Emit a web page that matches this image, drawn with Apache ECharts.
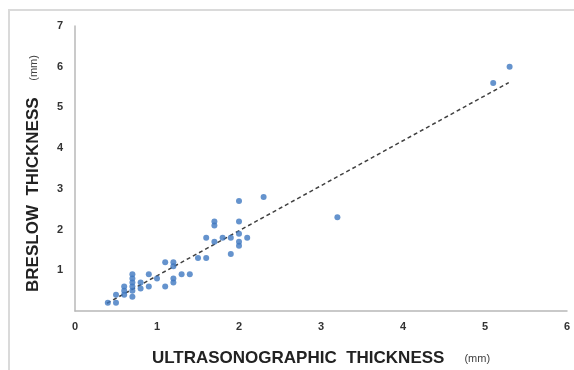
<!DOCTYPE html>
<html>
<head>
<meta charset="utf-8">
<script src="https://cdn.jsdelivr.net/npm/echarts@6/dist/echarts.min.js"></script>
<style>
  html, body { margin: 0; padding: 0; background: #fff; }
  #chart { width: 574px; height: 370px; }
</style>
</head>
<body>
<div id="chart"></div>
<script>
// ultrasonographic thickness (mm) per case
const ultrasoundX = [
  0.4, 0.5, 0.5, 0.6, 0.6, 0.6, 0.7, 0.7, 0.7, 0.7, 0.7, 0.7,
  0.8, 0.8, 0.9, 0.9, 1.0, 1.1, 1.1, 1.2, 1.2, 1.2, 1.2, 1.3,
  1.4, 1.5, 1.6, 1.6, 1.7, 1.7, 1.7, 1.8, 1.9, 1.9, 2.0, 2.0,
  2.0, 2.0, 2.0, 2.1, 2.3, 3.2, 5.1, 5.3
]
// breslow thickness (mm) per case
const breslowY = [
  0.2, 0.2, 0.4, 0.6, 0.5, 0.4, 0.9, 0.8, 0.7, 0.6, 0.5, 0.35,
  0.7, 0.55, 0.9, 0.6, 0.8, 1.2, 0.6, 1.2, 1.1, 0.8, 0.7, 0.9,
  0.9, 1.3, 1.3, 1.8, 2.2, 2.1, 1.7, 1.8, 1.8, 1.4, 2.7, 2.2,
  1.9, 1.7, 1.6, 1.8, 2.8, 2.3, 5.6, 6.0
]
// dashed trend line end points
const trendX = [0.39, 5.29]
const trendY = [0.19, 5.61]

const xTicks = [0, 1, 2, 3, 4, 5, 6]
const yTicks = [0, 1, 2, 3, 4, 5, 6, 7]

const chart = echarts.init(document.getElementById('chart'))

const points = ultrasoundX.map((x, i) => [x, breslowY[i]])
const trend = trendX.map((x, i) => [x, trendY[i]])

const labelStyle = {
  color: '#333',
  fontFamily: 'Liberation Sans',
  fontWeight: 'bold',
  fontSize: 11,
}

const titleRich = {
  b: { fontFamily: 'Liberation Sans', fontWeight: 'bold', fontSize: 17, color: '#222' },
  s: { fontFamily: 'Liberation Sans', fontSize: 11, color: '#404040' },
}

chart.setOption({
  animation: false,
  backgroundColor: '#fff',
  graphic: [
    {
      type: 'rect',
      shape: { x: 9, y: 10, width: 600, height: 400 },
      style: { fill: 'none', stroke: '#dadada', lineWidth: 2 },
    },
  ],
  grid: { left: 75, right: 7, top: 26, bottom: 59, outerBoundsMode: 'none' },
  xAxis: {
    type: 'value',
    min: xTicks[0],
    max: xTicks[xTicks.length - 1],
    interval: 1,
    axisLine: { lineStyle: { color: '#b8b8b8', width: 1.5 } },
    axisTick: { show: false },
    splitLine: { show: false },
    axisLabel: { ...labelStyle, margin: 10 },
    name: '{b|ULTRASONOGRAPHIC  THICKNESS}      {s|(mm)}',
    nameLocation: 'middle',
    nameGap: 39,
    nameTextStyle: { rich: titleRich },
  },
  yAxis: {
    type: 'value',
    min: yTicks[0],
    max: yTicks[yTicks.length - 1],
    interval: 1,
    axisLine: { show: true, lineStyle: { color: '#b8b8b8', width: 1.5 } },
    axisTick: { show: false },
    splitLine: { show: false },
    axisLabel: { ...labelStyle, margin: 12, showMinLabel: false },
    name: '{b|BRESLOW  THICKNESS}     {s|(mm)}',
    nameLocation: 'middle',
    nameGap: 33,
    nameTextStyle: { rich: titleRich, padding: [0, 10, 0, 0] },
  },
  series: [
    {
      name: 'trend',
      type: 'line',
      data: trend,
      symbol: 'none',
      lineStyle: { color: '#404040', width: 1.5, type: [4, 3] },
      z: 1,
    },
    {
      name: 'cases',
      type: 'scatter',
      data: points,
      symbolSize: 6,
      itemStyle: { color: '#3f78c0' },
      z: 2,
    },
  ],
})
</script>
</body>
</html>
